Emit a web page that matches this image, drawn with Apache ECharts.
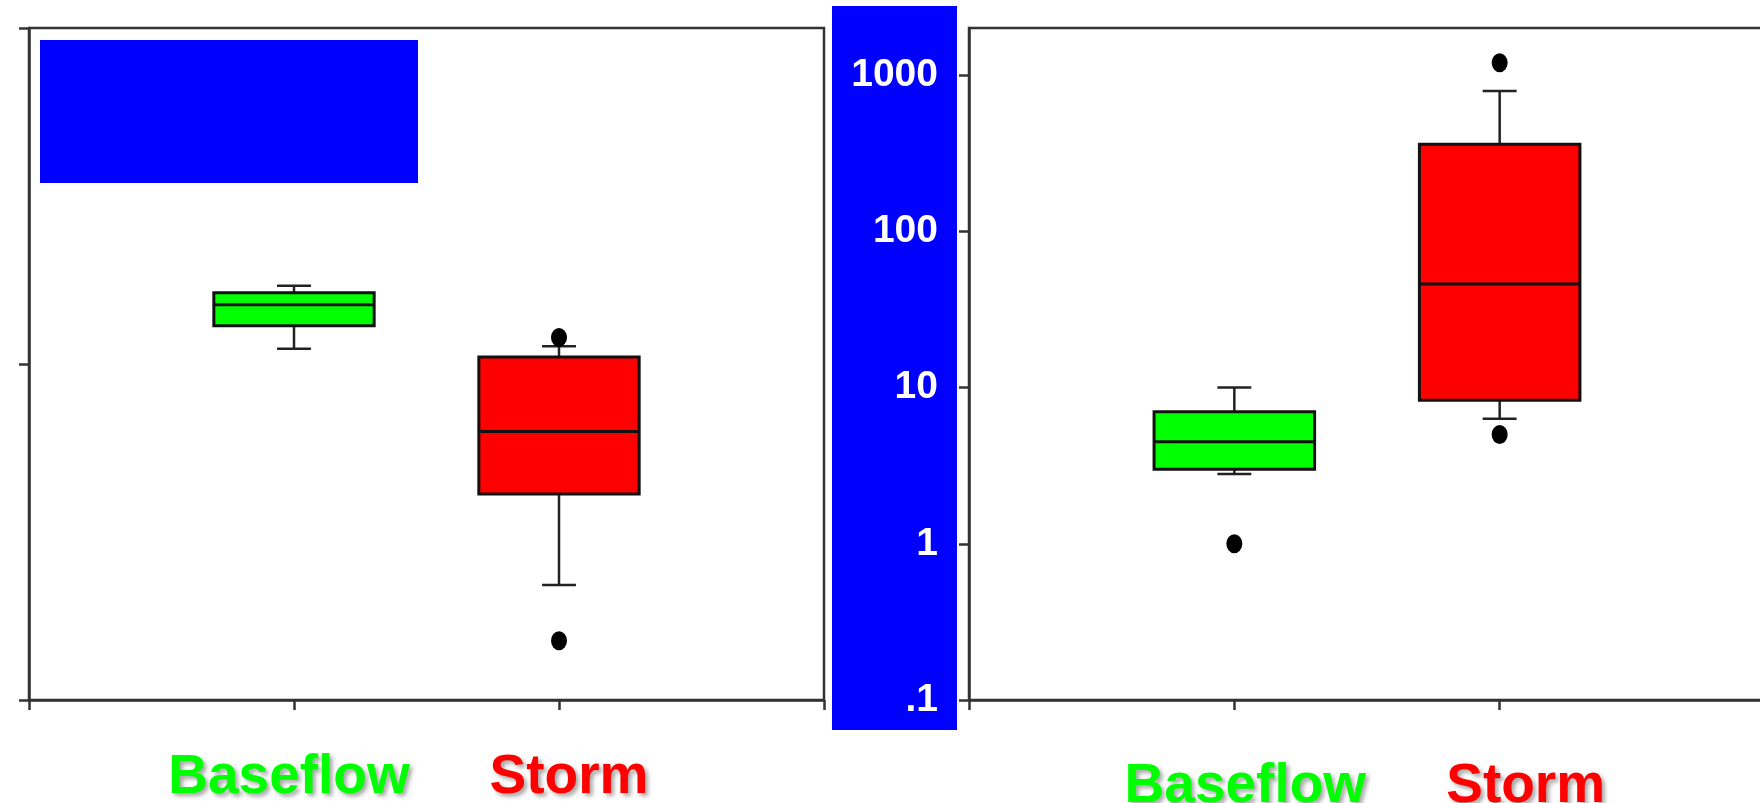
<!DOCTYPE html>
<html><head><meta charset="utf-8">
<script src="https://cdn.jsdelivr.net/npm/echarts@6/dist/echarts.min.js"></script>
<style>html,body{margin:0;padding:0;background:#fff}#c{width:1760px;height:803px}</style>
</head><body><div id="c"></div>
<script>
// ---- data ----
const categories = ['Baseflow', 'Storm'];
const boxColors = ['#00FF00', '#FF0000'];
// left panel boxes: [min, Q1, median, Q3, max]
const leftBoxes = [[11.1, 13.0, 15.0, 16.3, 17.1], [2.2, 4.1, 6.3, 10.5, 11.3]];
const leftOutliers = [['Storm', 12.0], ['Storm', 1.5]];
const leftTickValues = [1, 10, 100];
// right panel boxes: [min, Q1, median, Q3, max]
const rightBoxes = [[2.8, 3.0, 4.5, 7.0, 10.0], [6.3, 8.3, 46, 360, 790]];
const rightOutliers = [['Baseflow', 1.0], ['Storm', 5.0], ['Storm', 1200]];
const rightTickValues = [0.1, 1, 10, 100, 1000];
const rightTickLabels = ['.1', '1', '10', '100', '1000'];

// ---- helpers ----
const axisCats = [''].concat(categories, ['']);
const lineCol = '#333333';

function renderBox(params, api) {
  const ci = api.value(0);
  const v = [1, 2, 3, 4, 5].map(i => api.value(i));
  const p0 = api.coord([0, v[2]]);
  const p1 = api.coord([1, v[2]]);
  const band = p1[0] - p0[0];
  const x = api.coord([ci, v[2]])[0];
  const bw = band * 0.605;
  const cw = band * 0.128;
  const y = v.map(val => api.coord([ci, val])[1]);
  const color = boxColors[params.dataIndex];
  const lineStyle = { stroke: '#222', lineWidth: 2.5 };
  return {
    type: 'group',
    children: [
      { type: 'line', shape: { x1: x, y1: y[4], x2: x, y2: y[3] }, style: lineStyle },
      { type: 'line', shape: { x1: x, y1: y[1], x2: x, y2: y[0] }, style: lineStyle },
      { type: 'line', shape: { x1: x - cw / 2, y1: y[4], x2: x + cw / 2, y2: y[4] }, style: lineStyle },
      { type: 'line', shape: { x1: x - cw / 2, y1: y[0], x2: x + cw / 2, y2: y[0] }, style: lineStyle },
      { type: 'rect', shape: { x: x - bw / 2, y: y[3], width: bw, height: y[1] - y[3] },
        style: { fill: color, stroke: '#111', lineWidth: 3 } },
      { type: 'line', shape: { x1: x - bw / 2, y1: y[2], x2: x + bw / 2, y2: y[2] },
        style: { stroke: '#111', lineWidth: 3 } }
    ]
  };
}

const labelShadow = { textShadowColor: 'rgba(0,0,0,0.35)', textShadowBlur: 4, textShadowOffsetX: 3, textShadowOffsetY: 3 };
function catRich(padB, padS) {
  const base = Object.assign({ fontSize: 55, fontWeight: 'bold', fontFamily: 'Liberation Sans', lineHeight: 56 }, labelShadow);
  return {
    g: Object.assign({}, base, { color: boxColors[0], padding: padB }),
    r: Object.assign({}, base, { color: boxColors[1], padding: padS })
  };
}
function catFormatter(v) {
  if (v === categories[0]) return '{g|' + v + '}';
  if (v === categories[1]) return '{r|' + v + '}';
  return '';
}

const axisLine = { show: true, lineStyle: { color: lineCol, width: 2.5 } };
const axisTick = { show: true, length: 10, lineStyle: { color: lineCol, width: 2.5 } };

const chart = echarts.init(document.getElementById('c'), null, { renderer: 'canvas' });
chart.setOption({
  animation: false,
  backgroundColor: '#ffffff',
  grid: [
    { left: 29, top: 28, width: 795, height: 672, show: true, borderColor: lineCol, borderWidth: 2.5,
      backgroundColor: 'transparent', outerBoundsMode: 'none', containLabel: false },
    { left: 969, top: 28, width: 796, height: 672, show: true, borderColor: lineCol, borderWidth: 2.5,
      backgroundColor: 'transparent', outerBoundsMode: 'none', containLabel: false }
  ],
  xAxis: [
    { type: 'category', gridIndex: 0, data: axisCats, boundaryGap: false,
      axisLine: axisLine, axisTick: Object.assign({ interval: 0 }, axisTick),
      axisLabel: { interval: 0, margin: 50, formatter: catFormatter, rich: catRich([0, 10, 0, 0], [0, 0, 0, 20]) },
      splitLine: { show: false } },
    { type: 'category', gridIndex: 1, data: axisCats, boundaryGap: false,
      axisLine: axisLine, axisTick: Object.assign({ interval: 0 }, axisTick),
      axisLabel: { interval: 0, margin: 59, formatter: catFormatter, rich: catRich([0, 0, 0, 22], [0, 0, 0, 52]) },
      splitLine: { show: false } }
  ],
  yAxis: [
    { type: 'log', logBase: 10, gridIndex: 0, min: leftTickValues[0], max: leftTickValues[leftTickValues.length - 1],
      axisLine: axisLine, axisTick: axisTick, axisLabel: { show: false }, splitLine: { show: false } },
    { type: 'log', logBase: 10, gridIndex: 1, min: 0.1, max: 2000, z: 5,
      axisLine: axisLine,
      axisTick: Object.assign({ customValues: rightTickValues }, axisTick),
      axisLabel: {
        customValues: rightTickValues, margin: 31, color: '#ffffff', fontSize: 39, fontWeight: 'bold', fontFamily: 'Liberation Sans',
        formatter: function (val) {
          for (let i = 0; i < rightTickValues.length; i++) {
            if (Math.abs(Math.log10(val) - Math.log10(rightTickValues[i])) < 1e-6) return rightTickLabels[i];
          }
          return '';
        }
      },
      splitLine: { show: false } }
  ],
  graphic: [
    { type: 'rect', z: 0, shape: { x: 832, y: 6, width: 125, height: 724 }, style: { fill: '#0000FF' } },
    { type: 'rect', z: 100, shape: { x: 40, y: 40, width: 378, height: 143 }, style: { fill: '#0000FF' } }
  ],
  series: [
    { type: 'custom', xAxisIndex: 0, yAxisIndex: 0, renderItem: renderBox,
      encode: { x: 0, y: [1, 2, 3, 4, 5] },
      data: leftBoxes.map((b, i) => [categories[i]].concat(b)) },
    { type: 'scatter', xAxisIndex: 0, yAxisIndex: 0, symbol: 'circle', symbolSize: [16, 19],
      itemStyle: { color: '#000', opacity: 1 }, data: leftOutliers, z: 3 },
    { type: 'custom', xAxisIndex: 1, yAxisIndex: 1, renderItem: renderBox,
      encode: { x: 0, y: [1, 2, 3, 4, 5] },
      data: rightBoxes.map((b, i) => [categories[i]].concat(b)) },
    { type: 'scatter', xAxisIndex: 1, yAxisIndex: 1, symbol: 'circle', symbolSize: [16, 19],
      itemStyle: { color: '#000', opacity: 1 }, data: rightOutliers, z: 3 }
  ]
});
</script>
</body></html>
